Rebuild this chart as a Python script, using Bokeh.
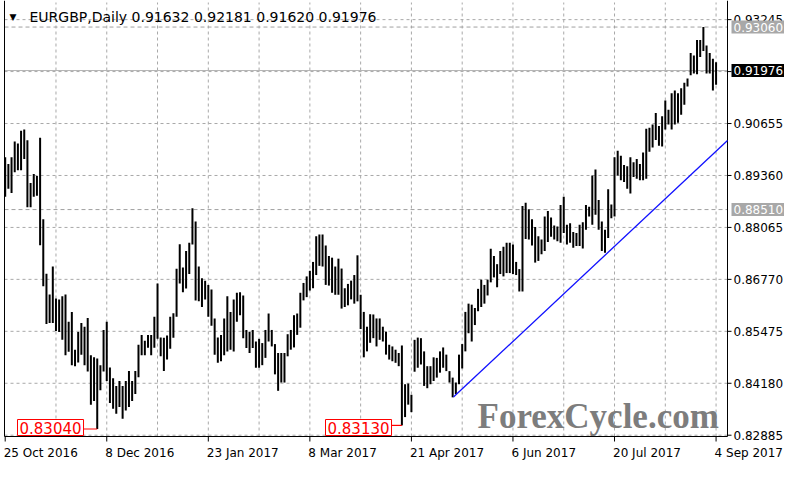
from bokeh.plotting import figure
from bokeh.models import Range1d, Label
from bokeh.core.properties import value
from bokeh.embed import file_html
from bokeh.resources import INLINE

# ---- data ----
bar_high = [
    0.89812, 0.89647, 0.89812, 0.90205, 0.90156, 0.90476, 0.90508, 0.90237, 0.89172, 0.89394,
    0.89344, 0.90303, 0.88270, 0.86910, 0.86394, 0.87090, 0.86295, 0.86271, 0.86352, 0.86394,
    0.85713, 0.85959, 0.85017, 0.85459, 0.85681, 0.85590, 0.85804, 0.84877, 0.84827, 0.84795,
    0.84631, 0.85509, 0.85713, 0.84574, 0.84304, 0.84114, 0.84237, 0.84114, 0.84237, 0.84483,
    0.84237, 0.84483, 0.85140, 0.85386, 0.85238, 0.85386, 0.85386, 0.85836, 0.86664, 0.85319,
    0.85312, 0.85369, 0.85836, 0.85927, 0.87033, 0.87648, 0.87065, 0.87476, 0.87680, 0.88541,
    0.88213, 0.87090, 0.86795, 0.86738, 0.86632, 0.86517, 0.85796, 0.85319, 0.85386, 0.85796,
    0.86352, 0.85959, 0.86271, 0.86436, 0.86451, 0.86369, 0.85509, 0.85467, 0.85509, 0.85221,
    0.85287, 0.85182, 0.85509, 0.85919, 0.85509, 0.85157, 0.84935, 0.84935, 0.84935, 0.85403,
    0.85509, 0.85877, 0.85919, 0.86436, 0.86681, 0.86844, 0.86984, 0.87205, 0.87845, 0.87886,
    0.87886, 0.87616, 0.87353, 0.87311, 0.87090, 0.87286, 0.87040, 0.86549, 0.86657, 0.86738,
    0.86878, 0.87370, 0.86386, 0.85959, 0.85590, 0.85901, 0.85895, 0.85796, 0.85796, 0.85590,
    0.85467, 0.85140, 0.85098, 0.85017, 0.84935, 0.85122, 0.84156, 0.84173, 0.83893, 0.85263,
    0.85319, 0.85304, 0.84975, 0.84606, 0.84606, 0.84827, 0.84813, 0.84975, 0.85073, 0.84894,
    0.84483, 0.84321, 0.84198, 0.84894, 0.85157, 0.85959, 0.86165, 0.86140, 0.86057, 0.86534,
    0.86763, 0.86632, 0.86763, 0.87532, 0.87353, 0.87149, 0.87476, 0.87581, 0.87680, 0.87680,
    0.87641, 0.87205, 0.87026, 0.88599, 0.88680, 0.88516, 0.88270, 0.88073, 0.87845, 0.87763,
    0.88336, 0.88476, 0.88312, 0.88115, 0.88091, 0.88624, 0.88828, 0.88132, 0.88172, 0.87950,
    0.87926, 0.88132, 0.88196, 0.88624, 0.88582, 0.89362, 0.89509, 0.88747, 0.88213, 0.88009,
    0.89017, 0.88639, 0.89812, 0.89976, 0.89853, 0.89622, 0.89590, 0.89812, 0.89689, 0.89770,
    0.89647, 0.89935, 0.90525, 0.90549, 0.90631, 0.90918, 0.90591, 0.90837, 0.91231, 0.90999,
    0.91410, 0.91476, 0.91410, 0.91533, 0.91673, 0.91779, 0.92411, 0.92352, 0.92738, 0.92738,
    0.93060, 0.92598, 0.92411, 0.92271, 0.92181,
]
bar_low = [
    0.88828, 0.89032, 0.88926, 0.89443, 0.89492, 0.89492, 0.89770, 0.88565, 0.88565, 0.88828,
    0.88853, 0.87623, 0.86598, 0.85656, 0.85681, 0.85681, 0.85484, 0.85459, 0.85263, 0.84877,
    0.84968, 0.84631, 0.84606, 0.84697, 0.84894, 0.84631, 0.84476, 0.83647, 0.83738, 0.83040,
    0.84009, 0.84476, 0.84237, 0.83689, 0.83542, 0.83419, 0.83591, 0.83296, 0.83500, 0.83591,
    0.83738, 0.83910, 0.84328, 0.84877, 0.84877, 0.85066, 0.84877, 0.85066, 0.85288, 0.84852,
    0.84483, 0.84771, 0.85041, 0.85312, 0.85836, 0.86664, 0.86451, 0.86541, 0.86903, 0.87641,
    0.86246, 0.86222, 0.86081, 0.86271, 0.85836, 0.85614, 0.84894, 0.84690, 0.84729, 0.84877,
    0.84975, 0.85017, 0.84975, 0.85713, 0.85877, 0.85304, 0.85059, 0.84935, 0.85059, 0.84567,
    0.84567, 0.84631, 0.84813, 0.85221, 0.85098, 0.84402, 0.83992, 0.84198, 0.84198, 0.84852,
    0.85017, 0.85073, 0.85386, 0.85565, 0.86246, 0.86327, 0.86492, 0.86549, 0.86878, 0.87107,
    0.87090, 0.86632, 0.86615, 0.86436, 0.86386, 0.86386, 0.86042, 0.86081, 0.86123, 0.86271,
    0.86165, 0.86222, 0.85533, 0.84827, 0.84975, 0.85189, 0.85304, 0.85098, 0.85263, 0.85221,
    0.84894, 0.84771, 0.84729, 0.84690, 0.84606, 0.83130, 0.83337, 0.83647, 0.83460, 0.84468,
    0.84567, 0.84648, 0.84114, 0.84057, 0.84156, 0.84237, 0.84321, 0.84444, 0.84567, 0.84483,
    0.84198, 0.83829, 0.83910, 0.84156, 0.84549, 0.84975, 0.85427, 0.85221, 0.85631, 0.85976,
    0.86081, 0.86165, 0.86369, 0.86696, 0.86819, 0.86573, 0.86903, 0.86844, 0.86927, 0.86927,
    0.86903, 0.86878, 0.86468, 0.86468, 0.87778, 0.87763, 0.87616, 0.87188, 0.87230, 0.87394,
    0.87476, 0.87702, 0.87832, 0.87763, 0.87722, 0.87680, 0.87926, 0.87641, 0.87680, 0.87557,
    0.87599, 0.87599, 0.87542, 0.88009, 0.88336, 0.88132, 0.88378, 0.88009, 0.87476, 0.87434,
    0.87803, 0.88294, 0.88336, 0.89362, 0.89239, 0.89197, 0.89032, 0.88909, 0.89320, 0.89278,
    0.89239, 0.89239, 0.89278, 0.89952, 0.90058, 0.90247, 0.90099, 0.90082, 0.90508, 0.90631,
    0.90508, 0.90631, 0.90672, 0.90876, 0.91122, 0.91575, 0.91860, 0.91902, 0.91885, 0.92312,
    0.92460, 0.91902, 0.91902, 0.91476, 0.91620,
]
bar_index = list(range(len(bar_high)))

date_tick_index = [0, 32, 64, 96, 128, 160, 192, 224]
date_tick_labels = ["25 Oct 2016", "8 Dec 2016", "23 Jan 2017", "8 Mar 2017",
                    "21 Apr 2017", "6 Jun 2017", "20 Jul 2017", "4 Sep 2017"]
grid_index = [16, 32, 48, 64, 80, 96, 112, 128, 144, 160, 176, 192, 208, 224]
price_ticks = [0.82885, 0.84180, 0.85475, 0.86770, 0.88065, 0.89360, 0.90655, 0.91950, 0.93245]

symbol_title = "EURGBP,Daily"
last_ohlc = [0.91632, 0.92181, 0.91620, 0.91976]
level_high = 0.93060
level_mid = 0.88510
low_marks_index = [29, 125]
low_marks_price = [0.83040, 0.83130]
trend_index = [141.25, 227.6]
trend_price = [0.83836, 0.90230]
watermark = "ForexCycle.com"

# ---- layout (pixels inside the 784x464 canvas) ----
W, H = 784, 464
X_START, X_END = -0.22, 227.6          # visible bar-index span of the chart area
Y_START, Y_END = 0.82853, 0.93672      # visible price span of the chart area
CL, CR, CT, CB = 4, 727, 2, 436        # chart area edges in canvas pixels
PX_X = (CR - CL) / (X_END - X_START)
PX_Y = (CB - CT) / (Y_END - Y_START)


def sx(px):
    """canvas x pixel -> bar index"""
    return X_START + (px - CL) / PX_X


def sy(py):
    """canvas y pixel (from top) -> price"""
    return Y_END - (py - CT) / PX_Y


FONT = "DejaVu Sans"
GRID = "#a8a8a8"

p = figure(width=W, height=H, output_backend="svg", toolbar_location=None,
           x_range=Range1d(sx(0), sx(W)), y_range=Range1d(sy(H), sy(0)),
           x_axis_type=None, y_axis_type=None,
           min_border_left=0, min_border_top=0, min_border_right=0, min_border_bottom=0)
p.outline_line_color = None
p.background_fill_color = "white"
p.border_fill_color = "white"

# grid
n = len(price_ticks)
p.segment(x0=[X_START] * n, y0=price_ticks, x1=[X_END] * n, y1=price_ticks,
          line_color=GRID, line_dash="3 3", line_width=1)
m = len(grid_index)
p.segment(x0=grid_index, y0=[Y_START] * m, x1=grid_index, y1=[Y_END] * m,
          line_color=GRID, line_dash="3 3", line_width=1)

# horizontal level lines
p.segment(x0=[X_START, X_START], y0=[level_high, level_mid], x1=[X_END, X_END],
          y1=[level_high, level_mid], line_color="#a0a0a0", line_dash="4 3", line_width=1)
p.segment(x0=[X_START], y0=[last_ohlc[3]], x1=[X_END], y1=[last_ohlc[3]],
          line_color="#b4b4b4", line_width=1)

# chart frame and axes
p.segment(x0=[X_START, X_END, X_START], y0=[Y_START, Y_START, Y_START],
          x1=[X_START, X_END, X_END], y1=[sy(0), sy(0), Y_START],
          line_color="black", line_width=1)
# price axis ticks + labels
tick_len_x = 4 / PX_X
p.segment(x0=[X_END] * n, y0=price_ticks, x1=[X_END + tick_len_x] * n, y1=price_ticks,
          line_color="black", line_width=1)
p.text(x=[X_END + 6 / PX_X] * n, y=price_ticks, text=[f"{v:.5f}" for v in price_ticks],
       text_font=value(FONT), text_font_size=value("12px"), text_color="black",
       text_align="left", text_baseline="middle")
# date axis ticks + labels
k = len(date_tick_index)
tick_len_y = 5 / PX_Y
p.segment(x0=date_tick_index, y0=[Y_START] * k, x1=date_tick_index,
          y1=[Y_START - tick_len_y] * k, line_color="black", line_width=1)
p.text(x=[t - 1.5 / PX_X for t in date_tick_index], y=[Y_START - 16 / PX_Y] * k,
       text=date_tick_labels, text_font=value(FONT), text_font_size=value("12px"),
       text_color="black", text_align="left", text_baseline="middle")

# bars
p.segment(x0=bar_index, y0=bar_low, x1=bar_index, y1=bar_high,
          line_color="black", line_width=2)

# trend line
p.line(trend_index, trend_price, line_color="#1010ff", line_width=1.3)

# watermark
p.add_layout(Label(x=sx(477), y=sy(416), text=watermark, text_font="Liberation Serif",
                   text_font_style="bold", text_font_size="35px", text_color="#7d7d7d",
                   text_baseline="alphabetic", text_align="left"))

# low markers (red boxed labels with connectors)
box_text_px = [17, 325]
box_right_px = [82, 390]
for i, (bi, bp) in enumerate(zip(low_marks_index, low_marks_price)):
    p.segment(x0=[sx(box_right_px[i])], y0=[bp], x1=[bi], y1=[bp],
              line_color="red", line_width=1.2)
    p.add_layout(Label(x=sx(box_text_px[i]), y=sy(427), text=f"{bp:.5f}", text_font=FONT,
                       text_font_size="15px", text_color="red", text_baseline="middle",
                       text_align="left", background_fill_color="white",
                       border_line_color="red", border_line_width=1, padding=2))

# title
p.add_layout(Label(x=sx(9), y=sy(16), text="\u25bc", text_font=FONT, text_font_size="9px",
                   text_color="black", text_baseline="middle"))
p.add_layout(Label(x=sx(29), y=sy(16),
                   text=symbol_title + " " + " ".join(f"{v:.5f}" for v in last_ohlc),
                   text_font=FONT, text_font_size="14px", text_color="black",
                   text_baseline="middle"))

# price labels on the right axis
for val, bg in [(level_high, "#a8a8a8"), (last_ohlc[3], "black"), (level_mid, "#a8a8a8")]:
    p.add_layout(Label(x=X_END + 4 / PX_X, y=val, text=f"{val:.5f}", text_font=FONT,
                       text_font_size="12px", text_color="white", text_baseline="middle",
                       text_align="left", background_fill_color=bg, padding=2))

open("out.html", "w").write(file_html(p, INLINE))
